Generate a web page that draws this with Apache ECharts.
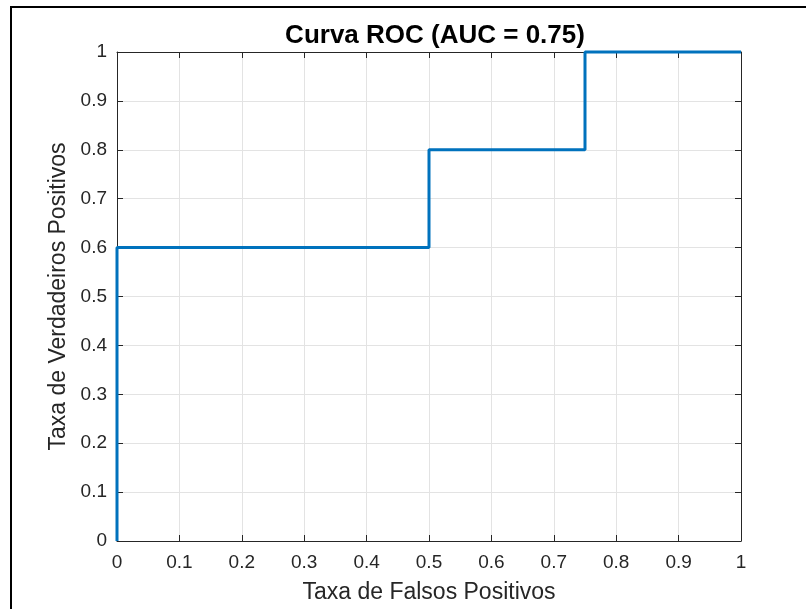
<!DOCTYPE html>
<html>
<head>
<meta charset="utf-8">
<script src="https://cdn.jsdelivr.net/npm/echarts@6/dist/echarts.min.js"></script>
<style>
  html, body { margin: 0; padding: 0; background: #fff; }
  #chart { width: 806px; height: 609px; }
</style>
</head>
<body>
<div id="chart"></div>
<script>
// ROC curve points (false positive rate, true positive rate)
var fprValues = [0, 0, 0.5, 0.5, 0.75, 0.75, 1];
var tprValues = [0, 0.6, 0.6, 0.8, 0.8, 1, 1];
var titleText = 'Curva ROC (AUC = 0.75)';
var xName = 'Taxa de Falsos Positivos';
var yName = 'Taxa de Verdadeiros Positivos';

var rocPoints = fprValues.map(function (x, i) { return [x, tprValues[i]]; });

var myChart = echarts.init(document.getElementById('chart'));

var axisColor = '#262626';
var font = 'Liberation Sans, Arial, Helvetica, sans-serif';

function baseAxis(extra) {
    var ax = {
        type: 'value',
        min: 0,
        max: 1,
        interval: 0.1,
        axisLine: { show: true, onZero: false, lineStyle: { color: axisColor, width: 1 } },
        axisTick: { show: true, inside: true, length: 6, lineStyle: { color: axisColor } },
        splitLine: { show: false }
    };
    return Object.assign(ax, extra);
}

var option = {
    animation: false,
    backgroundColor: '#fff',
    title: {
        text: titleText,
        left: 430,
        top: 18,
        textAlign: 'center',
        textStyle: { fontFamily: font, fontSize: 26, fontWeight: 'bold', color: '#000' }
    },
    grid: { left: 117, right: 65, top: 52, bottom: 63 },
    graphic: [{
        type: 'rect',
        shape: { x: 11, y: 7, width: 820, height: 640 },
        style: { fill: 'none', stroke: '#000', lineWidth: 2 },
        silent: true
    }],
    xAxis: [
        baseAxis({
            position: 'bottom',
            name: xName,
            nameLocation: 'middle',
            nameGap: 40,
            nameTextStyle: { fontFamily: font, fontSize: 23, color: axisColor },
            axisLabel: { fontFamily: font, fontSize: 19, color: axisColor, margin: 12 },
            splitLine: { show: true, lineStyle: { color: '#e3e3e3', width: 1 } }
        }),
        baseAxis({ position: 'top', axisLabel: { show: false } })
    ],
    yAxis: [
        baseAxis({
            position: 'left',
            name: yName,
            nameLocation: 'middle',
            nameGap: 42,
            nameTextStyle: { fontFamily: font, fontSize: 23, color: axisColor },
            axisLabel: { fontFamily: font, fontSize: 19, color: axisColor, margin: 10 },
            splitLine: { show: true, lineStyle: { color: '#e3e3e3', width: 1 } }
        }),
        baseAxis({ position: 'right', axisLabel: { show: false } })
    ],
    series: [{
        type: 'line',
        data: rocPoints,
        showSymbol: false,
        symbol: 'none',
        clip: false,
        lineStyle: { color: '#0072BD', width: 3 },
        z: 5
    }]
};

myChart.setOption(option);
</script>
</body>
</html>
